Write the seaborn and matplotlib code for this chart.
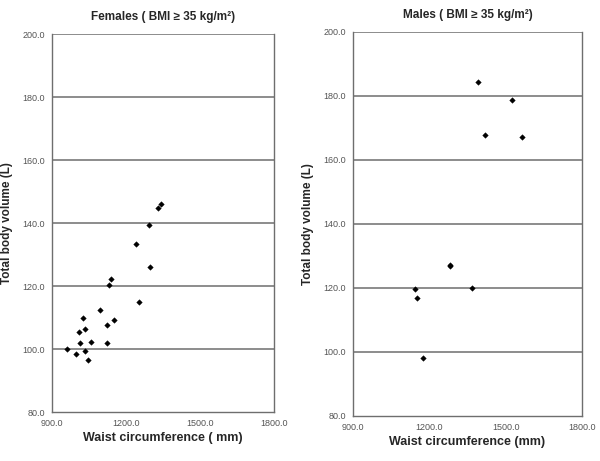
import numpy as np
import pandas as pd
import seaborn as sns
import matplotlib.pyplot as plt

# values
female_waist = [1330, 1342, 1293, 1239, 1298, 1139, 1131, 1251, 1095, 1025,
                1151, 1123, 1034, 1009, 1059, 1011, 1123, 959, 1032, 998, 1046]
female_tbv = [144.7, 146.0, 139.3, 133.5, 126.0, 122.2, 120.3, 115.0, 112.3, 110.0,
              109.4, 107.8, 106.3, 105.3, 102.3, 101.8, 101.8, 100.2, 99.4, 98.6, 96.4]

male_waist = [1390, 1524, 1418, 1563, 1280, 1283, 1144, 1154, 1370, 1175]
male_tbv = [184.3, 178.6, 167.7, 167.1, 126.8, 127.2, 119.6, 116.9, 119.8, 98.0]

x_ticks = [900, 1200, 1500, 1800]
y_ticks = [80, 100, 120, 140, 160, 180, 200]

sns.set_style("white")
plt.rcParams["font.family"] = ["Liberation Sans", "DejaVu Sans"]

fig = plt.figure(figsize=(6, 4.61), dpi=100)
ax1 = fig.add_axes([0.087, 0.106, 0.370, 0.820])
ax2 = fig.add_axes([0.588, 0.098, 0.382, 0.833])

panels = [
    (ax1, female_waist, female_tbv, "Females ( BMI \u2265 35 kg/m\u00b2)",
     "Waist circumference ( mm)", -0.175),
    (ax2, male_waist, male_tbv, "Males ( BMI \u2265 35 kg/m\u00b2)",
     "Waist circumference (mm)", -0.17),
]

for ax, xs, ys, title, xlab, ylab_x in panels:
    df = pd.DataFrame({"waist": xs, "tbv": ys})
    for v in y_ticks[1:]:
        ax.axhline(v, color="#6e6e6e", lw=1.1, zorder=1)
    sns.scatterplot(data=df, x="waist", y="tbv", ax=ax, marker="D", s=8,
                    color="black", edgecolor="black", linewidth=0.3, zorder=3)
    ax.set_xlim(900, 1800)
    ax.set_ylim(80, 200)
    ax.set_xticks(x_ticks)
    ax.set_yticks(y_ticks)
    ax.set_xticklabels([f"{t:.1f}" for t in x_ticks])
    ax.set_yticklabels([f"{t:.1f}" for t in y_ticks])
    ax.tick_params(axis="both", labelsize=6.5, colors="#555555", length=4,
                   width=0.8, direction="inout", pad=3)
    for s in ax.spines.values():
        s.set_color("#6e6e6e")
        s.set_linewidth(1.0)
    ax.spines["top"].set_visible(False)
    ax.set_title(title, fontsize=8.5, fontweight="bold", pad=10)
    ax.set_xlabel(xlab, fontsize=9, fontweight="bold", labelpad=3)
    ax.set_ylabel("Total body volume (L)", fontsize=8.5, fontweight="bold")
    ax.yaxis.set_label_coords(ylab_x, 0.5)

fig.savefig("out.png", dpi=100)
